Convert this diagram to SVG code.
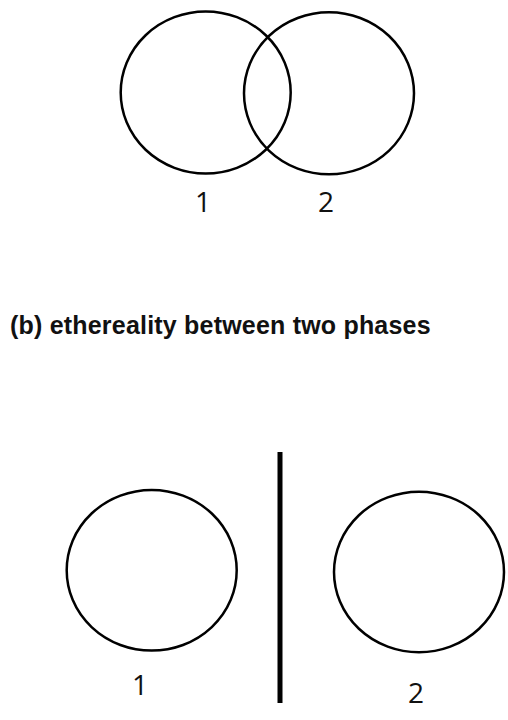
<svg xmlns="http://www.w3.org/2000/svg" width="508" height="720" viewBox="0 0 508 720">
<style>
.c{fill:none;stroke:#000;stroke-width:2.5}
.n{font-family:"Open Sans","Noto Sans","Liberation Sans",sans-serif;font-size:28px;fill:#111;text-anchor:middle}
.t{font-family:"Liberation Sans",Arial,sans-serif;font-size:25px;font-weight:bold;fill:#111;letter-spacing:0.2px}
</style>
<rect width="508" height="720" fill="#fff"/>
<g id="top-phase-1"><ellipse class="c" cx="205.7" cy="92.5" rx="85" ry="81"/><text class="n" x="203" y="212">1</text></g>
<g id="top-phase-2"><ellipse class="c" cx="329" cy="93.3" rx="85" ry="81"/><text class="n" x="326" y="212">2</text></g>
<text id="title" class="t" x="10" y="334">(b) ethereality between two phases</text>
<g id="bottom-phase-1"><ellipse class="c" cx="151.7" cy="570.3" rx="85" ry="80.3"/><text class="n" x="140" y="695">1</text></g>
<g id="bottom-phase-2"><ellipse class="c" cx="419" cy="572" rx="85" ry="80.3"/><text class="n" x="416" y="703">2</text></g>
<g id="connectors"><line x1="280" y1="452" x2="280" y2="703" stroke="#000" stroke-width="5"/></g>
</svg>
